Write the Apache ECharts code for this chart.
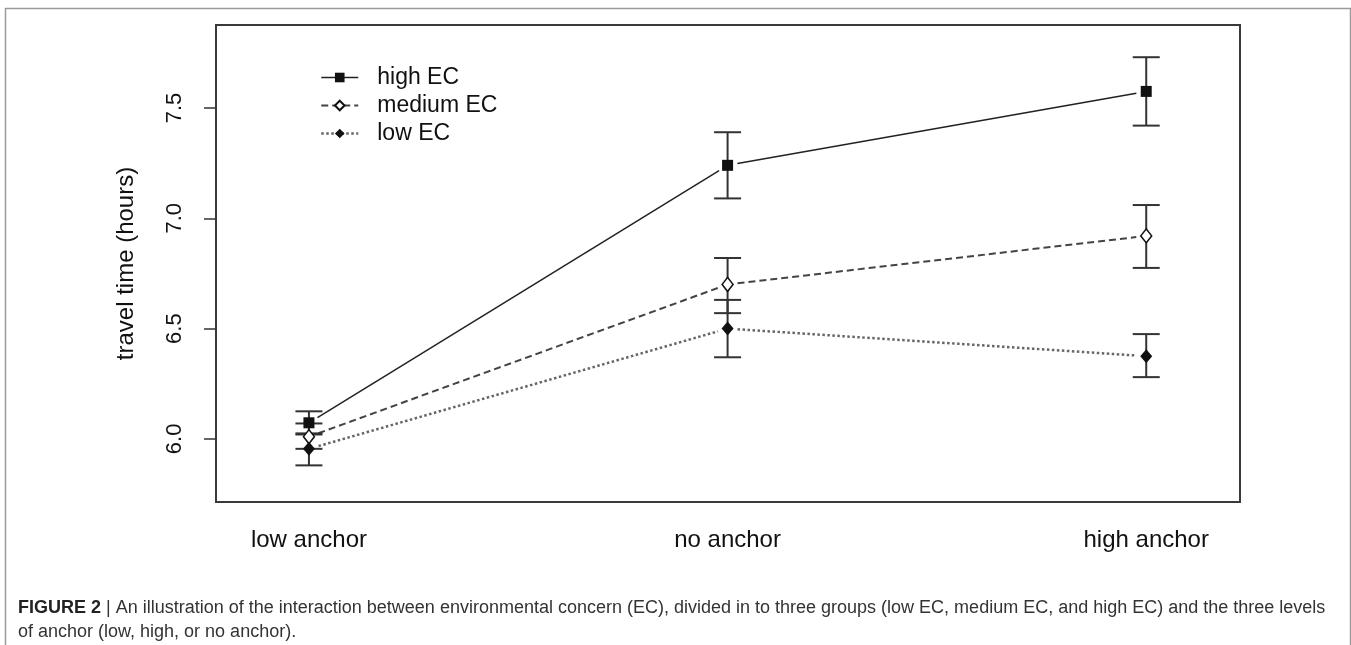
<!DOCTYPE html>
<html>
<head>
<meta charset="utf-8">
<script src="https://cdn.jsdelivr.net/npm/echarts@6/dist/echarts.min.js"></script>
<style>
  html, body { margin: 0; padding: 0; background: #fff; }
  #chart { width: 1351px; height: 645px; }
</style>
</head>
<body>
<div id="chart"></div>
<script>
// categories on the x axis
const anchors = ['low anchor', 'no anchor', 'high anchor']
const yTicks = [6.0, 6.5, 7.0, 7.5]

// means and error bar ends
const highEC = [6.073, 7.24, 7.575]
const highLo = [6.02, 7.09, 7.42]
const highHi = [6.125, 7.39, 7.73]

const medEC = [6.01, 6.70, 6.92]
const medLo = [5.955, 6.57, 6.775]
const medHi = [6.07, 6.82, 7.06]

const lowEC = [5.955, 6.50, 6.375]
const lowLo = [5.88, 6.37, 6.28]
const lowHi = [6.025, 6.63, 6.475]

const font = 'Liberation Sans, Arial, sans-serif'

const styles = {
    high: {color: '#222', width: 1.5, type: 'solid'},
    medium: {color: '#444', width: 2, type: [7, 4]},
    low: {color: '#666', width: 2.5, type: [2.5, 2.5]}
}

function points(vals) {
    return vals.map((v, i) => [i, v])
}

function segments(vals) {
    var out = []
    for (var i = 1; i < vals.length; i++) {
        out.push([i - 1, vals[i - 1], i, vals[i]])
    }
    return out
}

function bars(lo, hi) {
    return lo.map((v, i) => [i, v, hi[i]])
}

function errorBar(params, api) {
    var x = api.value(0)
    var p1 = api.coord([x, api.value(1)])
    var p2 = api.coord([x, api.value(2)])
    var w = 13.5
    var style = {stroke: '#333', lineWidth: 2}
    return {
        type: 'group',
        children: [
            {type: 'line', shape: {x1: p1[0], y1: p1[1], x2: p2[0], y2: p2[1]}, style: style},
            {type: 'line', shape: {x1: p1[0] - w, y1: p1[1], x2: p1[0] + w, y2: p1[1]}, style: style},
            {type: 'line', shape: {x1: p2[0] - w, y1: p2[1], x2: p2[0] + w, y2: p2[1]}, style: style}
        ]
    }
}

// R style type="b": the line stops short of each point
function gapLine(ls) {
    return function (params, api) {
        var a = api.coord([api.value(0), api.value(1)])
        var b = api.coord([api.value(2), api.value(3)])
        var dx = b[0] - a[0], dy = b[1] - a[1]
        var len = Math.sqrt(dx * dx + dy * dy)
        var g = 10
        var ux = dx / len, uy = dy / len
        return {
            type: 'line',
            shape: {x1: a[0] + ux * g, y1: a[1] + uy * g, x2: b[0] - ux * g, y2: b[1] - uy * g},
            style: {stroke: ls.color, lineWidth: ls.width, lineDash: ls.type === 'solid' ? null : ls.type}
        }
    }
}

var chart = echarts.init(document.getElementById('chart'), null, {renderer: 'canvas'})

var option = {
    backgroundColor: '#fff',
    animation: false,
    grid: {
        left: 216, right: 111, top: 25, bottom: 143,
        show: true,
        borderColor: '#3a3a3a',
        borderWidth: 2
    },
    legend: {
        orient: 'vertical',
        left: 315,
        top: 61,
        itemWidth: 37,
        itemHeight: 12,
        itemGap: 5,
        textStyle: {fontFamily: font, fontSize: 23, color: '#111', padding: [0, 0, 0, 14]},
        data: [
            {name: 'high EC', lineStyle: Object.assign({opacity: 1}, styles.high)},
            {name: 'medium EC', lineStyle: Object.assign({opacity: 1}, styles.medium)},
            {name: 'low EC', lineStyle: Object.assign({opacity: 1}, styles.low)}
        ]
    },
    xAxis: {
        type: 'value',
        min: -0.222,
        max: 2.224,
        splitLine: {show: false},
        axisLine: {show: false, onZero: false},
        axisTick: {show: false},
        axisLabel: {
            customValues: [0, 1, 2],
            formatter: v => anchors[Math.round(v)],
            margin: 26,
            fontFamily: font,
            fontSize: 24,
            color: '#111'
        }
    },
    yAxis: {
        type: 'value',
        min: 5.714,
        max: 7.876,
        splitLine: {show: false},
        axisLine: {show: false, onZero: false},
        axisTick: {
            show: true,
            customValues: yTicks,
            length: 12,
            lineStyle: {color: '#333', width: 1.5}
        },
        axisLabel: {
            customValues: yTicks,
            formatter: v => v.toFixed(1),
            rotate: 90,
            margin: 30,
            fontFamily: font,
            fontSize: 22,
            color: '#111'
        },
        name: 'travel time (hours)',
        nameLocation: 'middle',
        nameRotate: 90,
        nameGap: 78,
        nameTextStyle: {fontFamily: font, fontSize: 24, color: '#111'}
    },
    series: [
        {
            name: 'high EC', type: 'line', data: points(highEC),
            symbol: 'rect', symbolSize: 11,
            itemStyle: {color: '#111'},
            lineStyle: Object.assign({opacity: 0}, styles.high),
            z: 4
        },
        {
            name: 'medium EC', type: 'line', data: points(medEC),
            symbol: 'diamond', symbolSize: [11, 14],
            itemStyle: {color: '#fff', borderColor: '#111', borderWidth: 1.5},
            lineStyle: Object.assign({opacity: 0}, styles.medium),
            z: 4
        },
        {
            name: 'low EC', type: 'line', data: points(lowEC),
            symbol: 'diamond', symbolSize: [12, 14],
            itemStyle: {color: '#111'},
            lineStyle: Object.assign({opacity: 0}, styles.low),
            z: 4
        },
        {type: 'custom', renderItem: gapLine(styles.high), data: segments(highEC), z: 2, silent: true},
        {type: 'custom', renderItem: gapLine(styles.medium), data: segments(medEC), z: 2, silent: true},
        {type: 'custom', renderItem: gapLine(styles.low), data: segments(lowEC), z: 2, silent: true},
        {type: 'custom', renderItem: errorBar, data: bars(highLo, highHi), z: 3, silent: true},
        {type: 'custom', renderItem: errorBar, data: bars(medLo, medHi), z: 3, silent: true},
        {type: 'custom', renderItem: errorBar, data: bars(lowLo, lowHi), z: 3, silent: true}
    ],
    graphic: [
        {
            type: 'rect', left: 3, top: 6, silent: true,
            shape: {width: 1345, height: 700},
            style: {fill: null, stroke: '#9a9a9a', lineWidth: 1.5}
        },
        {
            type: 'text', left: 18, top: 596,
            style: {
                text: '{b|FIGURE 2} | An illustration of the interaction between environmental concern (EC), divided in to three groups (low EC, medium EC, and high EC) and the three levels\nof anchor (low, high, or no anchor).',
                font: '18px ' + font,
                fill: '#333',
                lineHeight: 24,
                rich: {b: {fontWeight: 'bold', fontSize: 18, fontFamily: font, fill: '#222'}}
            }
        }
    ]
}

chart.setOption(option)
</script>
</body>
</html>
